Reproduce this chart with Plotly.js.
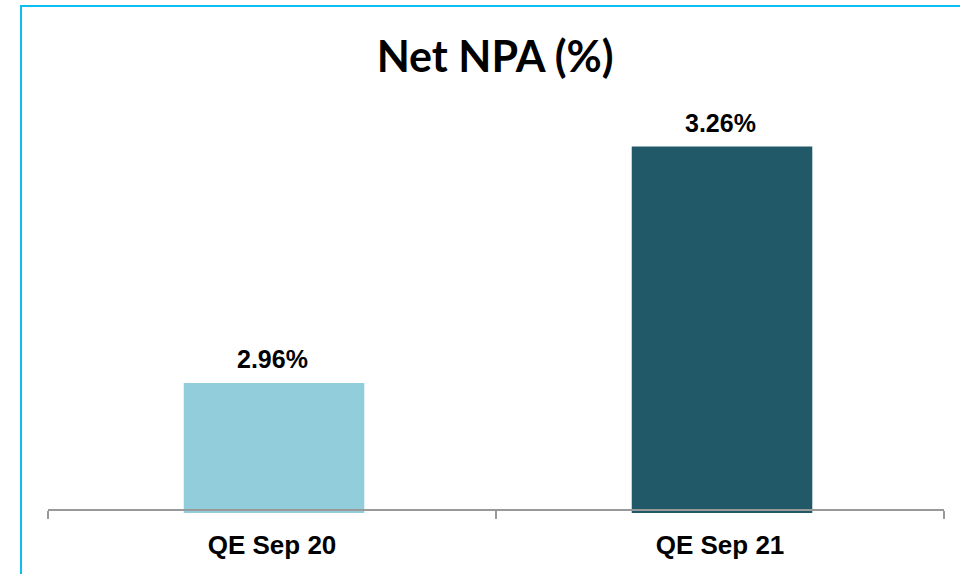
<!DOCTYPE html>
<html>
<head>
<meta charset="utf-8">
<script src="https://cdn.plot.ly/plotly-3.0.1.min.js"></script>
<style>
html,body{margin:0;padding:0;background:#fff;}
#wrap{position:relative;width:960px;height:574px;overflow:hidden;}
#chart{position:absolute;left:0;top:0;width:960px;height:574px;}
#frame{position:absolute;left:20px;top:5px;width:960px;height:600px;border-left:2px solid #0DBDF2;border-top:2px solid #0DBDF2;box-sizing:border-box;pointer-events:none;}
</style>
</head>
<body>
<div id="wrap"><div id="chart"></div><div id="frame"></div></div>
<script>
const categories = ["QE Sep 20", "QE Sep 21"];
const values = [2.96, 3.26];
const barColors = ["#92CDDC", "#215968"];
const valueLabels = values.map(v => v.toFixed(2) + "%");

const trace = {
  type: "bar",
  x: categories,
  y: values,
  marker: {color: barColors},
  hoverinfo: "none",
  width: 0.403,
  offset: -0.197
};

const annotations = categories.map((c, i) => ({
  x: c, y: values[i], xref: "x", yref: "y",
  text: "<b>" + valueLabels[i] + "</b>", showarrow: false,
  yanchor: "bottom", yshift: 8, xshift: 0,
  font: {family: "Liberation Sans, Arial, sans-serif", size: 25, color: "#000"}
}));

const layout = {
  width: 960, height: 574,
  margin: {l: 48, r: 16, t: 100, b: 60.5},
  paper_bgcolor: "#fff", plot_bgcolor: "#fff",
  showlegend: false,
  title: {
    text: "<b>Net NPA (%)</b>",
    x: 0.499, xanchor: "center", y: 0.9, yanchor: "middle",
    yref: "container", xref: "paper",
    font: {family: "Lato, Open Sans, sans-serif", size: 43, color: "#000"}
  },
  xaxis: {
    type: "category",
    range: [-0.5, 1.5],
    anchor: "free", position: 0.0068,
    showline: true, linecolor: "#999", linewidth: 2,
    ticks: "outside", tickson: "boundaries", ticklen: 8, tickwidth: 2, tickcolor: "#999",
    tickfont: {family: "Liberation Sans, Arial, sans-serif", size: 26, color: "#000"},
    ticklabelstandoff: 12,
    tickprefix: "<b>", ticksuffix: "</b>",
    showgrid: false, zeroline: false, fixedrange: true
  },
  yaxis: {
    range: [2.795, 3.319],
    visible: false, showgrid: false, zeroline: false, fixedrange: true
  },
  annotations: annotations
};

Plotly.newPlot("chart", [trace], layout, {displayModeBar: false, staticPlot: true});
</script>
</body>
</html>
